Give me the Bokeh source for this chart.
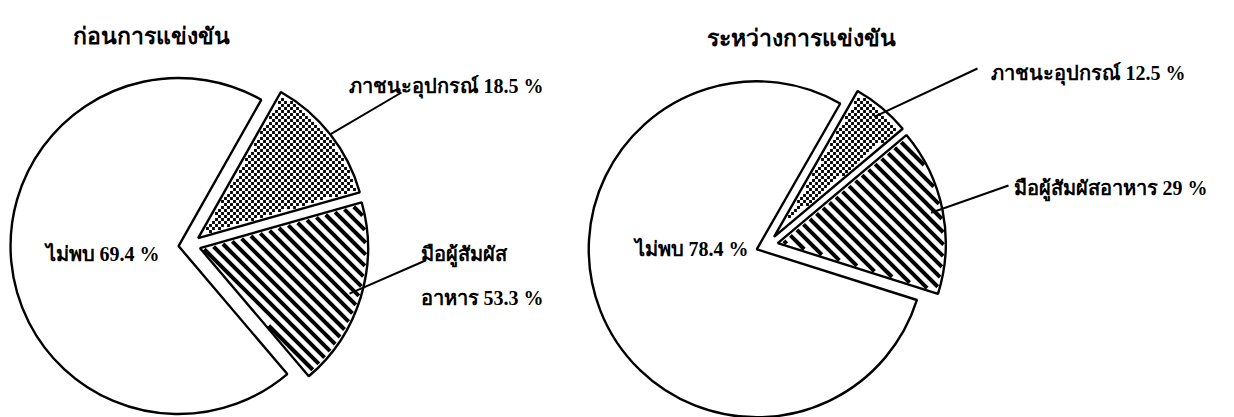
import numpy as np
from bokeh.plotting import figure
from bokeh.models import Range1d
from bokeh.core.properties import value
from bokeh.embed import file_html
from bokeh.resources import INLINE

# ---------------- data ----------------
titles = ["ก่อนการแข่งขัน", "ระหว่างการแข่งขัน"]
categories = ["ไม่พบ", "มือผู้สัมผัสอาหาร", "ภาชนะอุปกรณ์"]
# share of the pie each slice occupies (%)
before_share = [69.4, 18.2, 12.4]
during_share = [78.4, 16.0, 5.6]
# values printed in the labels
before_label = ["69.4", "53.3", "18.5"]
during_label = ["78.4", "29", "12.5"]
# angle (deg) where the first slice starts, slices run anticlockwise
before_start = 60.5
during_start = 60.2

# ---------------- layout ----------------
W, H = 1234, 417
R = 168
EXPLODE = 11
centers = [(189, H - 244.5), (766.5, H - 244.8)]
FONT = value("Liberation Serif")
STRIPE_STEP = 12     # horizontal period of the diagonal stripes (px)
DOT_STEP = 6         # checkerboard dot tile (px)
INSET = 2.2

p = figure(width=W, height=H, output_backend="svg", toolbar_location=None,
           x_range=Range1d(0, W), y_range=Range1d(0, H), min_border=0)
p.axis.visible = False
p.grid.visible = False
p.outline_line_color = None
p.background_fill_color = "white"
p.border_fill_color = "white"


def inset_polygon(ox, oy, a0, a1):
    half = (a1 - a0) / 2
    mid = (a0 + a1) / 2
    d = INSET / np.sin(half)
    ax, ay = ox + d * np.cos(mid), oy + d * np.sin(mid)
    da = np.arcsin(INSET / R)
    t = np.linspace(a0 + da, a1 - da, 120)
    xs = np.concatenate([[ax], ox + (R - INSET) * np.cos(t)])
    ys = np.concatenate([[ay], oy + (R - INSET) * np.sin(t)])
    return xs, ys


def stripes_in(xs, ys):
    segs_x, segs_y = [], []
    s = xs + ys
    for c in np.arange(np.floor(s.min() / STRIPE_STEP) * STRIPE_STEP, s.max() + 1, STRIPE_STEP):
        pts = []
        n = len(xs)
        for k in range(n):
            x1, y1, x2, y2 = xs[k], ys[k], xs[(k + 1) % n], ys[(k + 1) % n]
            f1, f2 = x1 + y1 - c, x2 + y2 - c
            if (f1 <= 0 < f2) or (f2 <= 0 < f1):
                t = f1 / (f1 - f2)
                pts.append(x1 + t * (x2 - x1))
        if len(pts) >= 2:
            xa, xb = min(pts), max(pts)
            segs_x.append([xa, xb])
            segs_y.append([c - xa, c - xb])
    return segs_x, segs_y


def dots_in(ox, oy, a0, a1):
    gx, gy = [], []
    x0, x1 = ox - R, ox + R
    y0, y1 = oy - R, oy + R
    for off in (0, DOT_STEP / 2):
        X, Y = np.meshgrid(np.arange(np.floor(x0 / DOT_STEP) * DOT_STEP + off, x1, DOT_STEP),
                           np.arange(np.floor(y0 / DOT_STEP) * DOT_STEP + off, y1, DOT_STEP))
        dx, dy = X - ox, Y - oy
        r = np.hypot(dx, dy)
        ang = np.mod(np.arctan2(dy, dx) - a0, 2 * np.pi)
        span = a1 - a0
        ok = (r < R - 3) & (ang < span) & (r * np.sin(ang) > 3) & (r * np.sin(span - ang) > 3)
        gx.extend(X[ok].ravel())
        gy.extend(Y[ok].ravel())
    return gx, gy


slice_geo = []
for (cx, cy), shares, start in zip(centers, [before_share, during_share], [before_start, during_start]):
    geo = []
    a0 = np.radians(start)
    for i, s in enumerate(shares):
        a1 = a0 + np.radians(s * 3.6)
        mid = (a0 + a1) / 2
        ox = cx + EXPLODE * np.cos(mid)
        oy = cy + EXPLODE * np.sin(mid)
        p.wedge(x=[ox], y=[oy], radius=R, start_angle=[a0], end_angle=[a1],
                fill_color="white", line_color=None)
        if i == 1:
            px, py = inset_polygon(ox, oy, a0, a1)
            sx, sy = stripes_in(px, py)
            p.multi_line(xs=sx, ys=sy, line_color="black", line_width=4, line_cap="butt")
        elif i == 2:
            gx, gy = dots_in(ox, oy, a0, a1)
            p.rect(x=gx, y=gy, width=2.8, height=2.8, fill_color="black", line_color=None)
        p.wedge(x=[ox], y=[oy], radius=R, start_angle=[a0], end_angle=[a1],
                fill_color=None, line_color="black", line_width=2.4)
        geo.append((ox, oy, mid))
        a0 = a1
    slice_geo.append(geo)


def txt(x, y, s, size="20px", align="left"):
    p.text(x=[x], y=[y], text=[s], text_font=FONT, text_font_style="bold",
           text_font_size=size, text_align=align, text_baseline="alphabetic",
           text_color="black")


def leader(geo, frac, x1, y1):
    ox, oy, mid = geo
    x0 = ox + frac * R * np.cos(mid)
    y0 = oy + frac * R * np.sin(mid)
    p.line(x=[x0, x1], y=[y0, y1], line_color="black", line_width=2)


# titles
txt(151, H - 36, titles[0], size="23px", align="center")
txt(801, H - 38, titles[1], size="23px", align="center")

# left pie labels
g = slice_geo[0]
txt(45, H - 253, f"{categories[0]} {before_label[0]} %")
txt(420, H - 253, categories[1][:12])
txt(420, H - 297, f"{categories[1][12:]}  {before_label[1]} %")
txt(348, H - 85, f"{categories[2]} {before_label[2]} %")
leader(g[1], 0.93, 425, H - 260)
leader(g[2], 1.0, 401, H - 92)

# right pie labels
g = slice_geo[1]
txt(634, H - 248, f"{categories[0]}   {during_label[0]} %")
txt(1013, H - 187, f"{categories[1]} {during_label[1]} %")
txt(990, H - 72, f"{categories[2]}  {during_label[2]} %")
leader(g[1], 0.93, 1008, H - 185)
leader(g[2], 0.93, 977, H - 68)

open("out.html", "w").write(file_html(p, INLINE))
